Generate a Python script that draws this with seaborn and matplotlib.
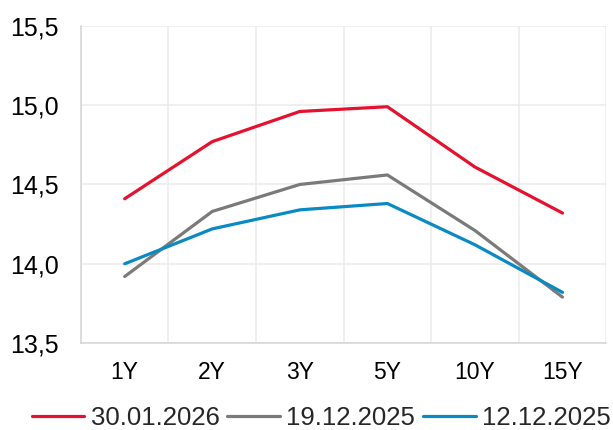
import matplotlib
matplotlib.use("Agg")
import matplotlib.pyplot as plt
from matplotlib.ticker import FixedLocator, FuncFormatter
import numpy as np
import pandas as pd
import seaborn as sns

# Yield curve by tenor for three dates
tenors = ["1Y", "2Y", "3Y", "5Y", "10Y", "15Y"]
dates = ["30.01.2026", "19.12.2025", "12.12.2025"]
yields_30_01_2026 = [14.41, 14.77, 14.96, 14.99, 14.61, 14.32]
yields_19_12_2025 = [13.92, 14.33, 14.50, 14.56, 14.21, 13.79]
yields_12_12_2025 = [14.00, 14.22, 14.34, 14.38, 14.12, 13.82]
colors = ["#E4112F", "#7A7A7A", "#0A8AC2"]
y_ticks = [13.5, 14.0, 14.5, 15.0, 15.5]

series = [yields_30_01_2026, yields_19_12_2025, yields_12_12_2025]
df = pd.DataFrame({
    "pos": np.tile(np.arange(len(tenors)), len(dates)),
    "yield": np.concatenate(series),
    "date": np.repeat(dates, len(tenors)),
})

sns.set_style("white")
plt.rcParams["font.family"] = ["Liberation Sans", "DejaVu Sans"]

fig = plt.figure(figsize=(6.13, 4.30), dpi=100)
ax = fig.add_axes([0.132, 0.202, 0.857, 0.738])

sns.lineplot(data=df, x="pos", y="yield", hue="date", hue_order=dates,
             palette=colors, linewidth=2.3, sort=False, ax=ax, legend=True)

ax.set_xlim(-0.5, len(tenors) - 0.5)
ax.set_ylim(y_ticks[0], y_ticks[-1])
ax.set_xticks(range(len(tenors)))
ax.set_xticklabels(tenors)
ax.xaxis.set_minor_locator(FixedLocator(np.arange(-0.5, len(tenors), 1.0)))
ax.set_yticks(y_ticks)
ax.yaxis.set_major_formatter(FuncFormatter(lambda v, _: f"{v:.1f}".replace(".", ",")))

ax.grid(False)
ax.grid(axis="y", which="major", color="#EBEBEB", linewidth=1.1)
ax.grid(axis="x", which="minor", color="#EBEBEB", linewidth=1.1)
ax.set_axisbelow(True)

ax.tick_params(axis="x", which="major", length=0, pad=13, labelsize=16.5, colors="#000000")
ax.tick_params(axis="x", which="minor", length=6, width=1.1, color="#D4D4D4")
ax.tick_params(axis="y", which="major", length=5, width=1.1, color="#D4D4D4",
               pad=11, labelsize=18, labelcolor="#000000")

for side in ["top", "right"]:
    ax.spines[side].set_visible(False)
for side in ["left", "bottom"]:
    ax.spines[side].set_color("#D4D4D4")
    ax.spines[side].set_linewidth(1.1)

ax.set_xlabel("")
ax.set_ylabel("")

handles, labels = ax.get_legend_handles_labels()
ax.get_legend().remove()
fig.legend(handles, labels, loc="center", bbox_to_anchor=(0.524, 0.028),
           ncol=3, frameon=False, fontsize=18.5, handlelength=2.05,
           handletextpad=0.25, columnspacing=0.3, borderaxespad=0)

fig.savefig("out.png", dpi=100, facecolor="white")
